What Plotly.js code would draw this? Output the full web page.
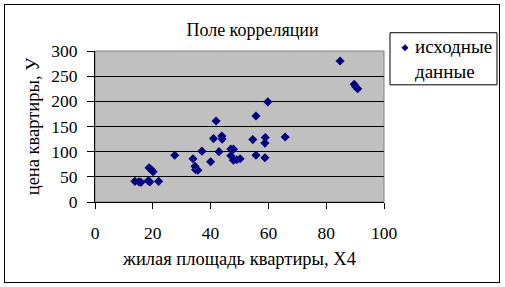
<!DOCTYPE html>
<html><head><meta charset="utf-8">
<script src="https://cdn.plot.ly/plotly-3.0.1.min.js"></script>
<style>body{margin:0;padding:0;background:#fff}#frame{position:absolute;left:4px;top:4px;width:494px;height:277px;border:1px solid #000;pointer-events:none}</style>
</head><body>
<div id="chart" style="width:505px;height:287px;position:absolute;left:0;top:0"></div>
<div id="frame"></div>
<script>
const livingArea = [13.8,15.2,15.9,18.4,19.0,18.7,19.5,20.1,22.0,27.6,33.9,34.6,34.8,35.6,37.0,40.0,41.0,41.9,42.9,43.9,44.0,47.0,47.9,47.0,47.9,49.0,50.2,54.6,55.7,55.7,58.9,58.8,58.8,59.8,65.8,84.8,89.7,90.2,90.9];
const price = [41,40,39,42,40,68,64,60,41,93,86,71,64,63,101,80,126,161,100,131,125,105,105,92,83,84,86,124,171,93,128,117,88,199,129,280,234,229,225];
const xTicks = [0,20,40,60,80,100];
const yTicks = [0,50,100,150,200,250,300];
const seriesName = 'исходные<br>данные';
const serif = 'Liberation Serif, Times New Roman, serif';

// legend geometry (paper coords)
const lx0 = 1.0208, lx1 = 1.391, ly0 = 0.776, ly1 = 1.121;
const mx = 1.0727, my = 1.022, mdx = 0.0104, mdy = 0.0199;

Plotly.newPlot('chart', [{
  x: livingArea, y: price, type: 'scatter', mode: 'markers', name: seriesName,
  marker: {symbol: 'diamond', color: '#000080', size: 7}
}], {
  width: 505, height: 287,
  margin: {l: 95, r: 121, t: 51, b: 85},
  paper_bgcolor: '#fff', plot_bgcolor: '#c0c0c0',
  showlegend: false,
  font: {family: serif, color: '#000', size: 17.5},
  title: {text: 'Поле корреляции', font: {family: serif, size: 18}, x: 0.5, xref: 'container', xanchor: 'center', y: 0.895, yanchor: 'middle'},
  xaxis: {range: [0, 100], tickvals: xTicks, ticktext: xTicks.map(String), showgrid: false, zeroline: false,
    showline: true, linecolor: '#000', linewidth: 1, ticks: 'outside', ticklen: 6, tickcolor: '#000',
    ticklabelstandoff: 9, tickfont: {size: 17.5},
    title: {text: 'жилая площадь квартиры, Х4', font: {size: 18.5}, standoff: 10}},
  yaxis: {range: [0, 300], tickvals: yTicks, ticktext: yTicks.map(String), showgrid: true, gridcolor: '#000', gridwidth: 1,
    zeroline: false, showline: true, linecolor: '#000', linewidth: 1, ticks: 'outside', ticklen: 7, tickcolor: '#000',
    ticklabelstandoff: 6, tickfont: {size: 17.5},
    title: {text: 'цена квартиры, У', font: {size: 18.5}, standoff: 6}},
  annotations: [{xref: 'paper', yref: 'paper', x: 1.1003, y: (ly0 + ly1) / 2, xanchor: 'left', yanchor: 'middle', align: 'left',
    text: seriesName, showarrow: false, font: {family: serif, size: 19, color: '#000'}}],
  shapes: [
    {type: 'rect', xref: 'paper', yref: 'paper', x0: 0, x1: 1, y0: 0, y1: 1, line: {color: '#808080', width: 1}, layer: 'below'},
    {type: 'rect', xref: 'paper', yref: 'paper', x0: lx0, x1: lx1, y0: ly0, y1: ly1, line: {color: '#000', width: 1}, fillcolor: '#fff'},
    {type: 'path', xref: 'paper', yref: 'paper',
      path: `M ${mx} ${my + mdy} L ${mx + mdx} ${my} L ${mx} ${my - mdy} L ${mx - mdx} ${my} Z`,
      fillcolor: '#000080', line: {color: '#000080', width: 1}}
  ]
}, {displayModeBar: false, staticPlot: true});
</script></body></html>
